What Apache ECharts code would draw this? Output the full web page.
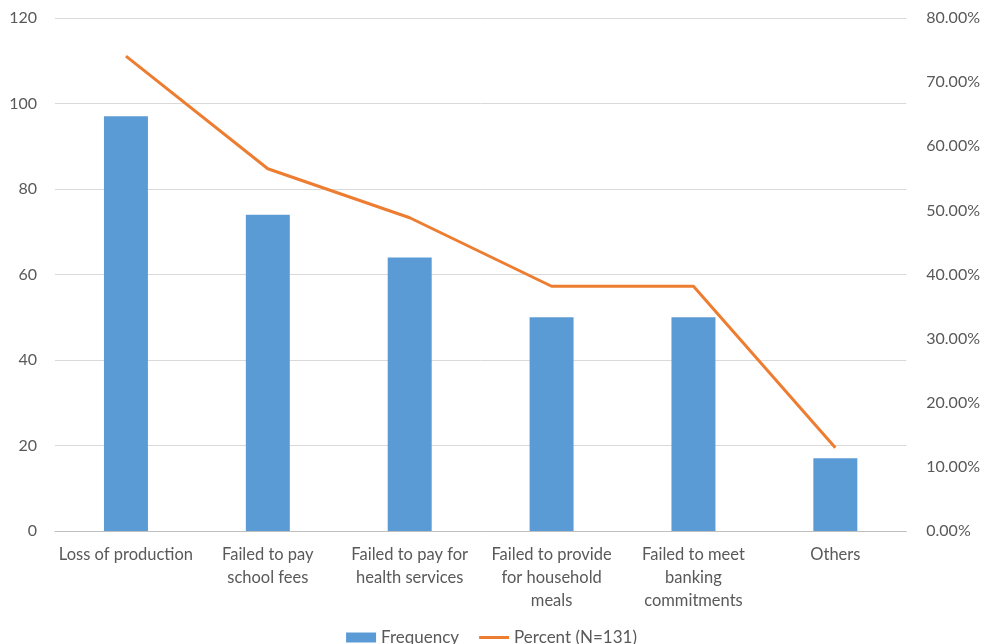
<!DOCTYPE html>
<html>
<head>
<meta charset="utf-8">
<script src="https://cdn.jsdelivr.net/npm/echarts@6/dist/echarts.min.js"></script>
<style>
  html, body { margin: 0; padding: 0; background: #fff; }
  #chart { width: 983px; height: 644px; }
</style>
</head>
<body>
<div id="chart"></div>
<script>
// Consequences reported by respondents
const categories = [
  'Loss of production',
  'Failed to pay\nschool fees',
  'Failed to pay for\nhealth services',
  'Failed to provide\nfor household\nmeals',
  'Failed to meet\nbanking\ncommitments',
  'Others'
];
const frequency = [97, 74, 64, 50, 50, 17];
const percent = [74.05, 56.49, 48.85, 38.17, 38.17, 12.98];

const textColor = '#595959';
const fontFamily = 'Lato, "Noto Sans", sans-serif';
// thin horizontal stroke inside a 30x10 box, used as the line's legend key
const lineKey = 'path://M0,0L30,0L30,0.01L0,0.01Z M0,3.6L30,3.6L30,6.4L0,6.4Z M0,9.99L30,9.99L30,10L0,10Z';

const chart = echarts.init(document.getElementById('chart'));
chart.setOption({
  animation: false,
  textStyle: { fontFamily: fontFamily },
  grid: { left: 55, right: 75, top: 18, bottom: 113, containLabel: false },
  legend: {
    top: 624,
    left: 'center',
    itemWidth: 30,
    itemHeight: 10,
    itemGap: 20,
    textStyle: { color: textColor, fontSize: 17, fontFamily: fontFamily },
    data: [
      { name: 'Frequency', icon: 'rect' },
      { name: 'Percent (N=131)', icon: lineKey }
    ]
  },
  xAxis: {
    type: 'category',
    data: categories,
    axisTick: { show: false },
    axisLine: { lineStyle: { color: '#BFBFBF', width: 1 } },
    axisLabel: {
      color: textColor,
      fontSize: 16.5,
      lineHeight: 23,
      margin: 12,
      interval: 0,
      align: 'center'
    }
  },
  yAxis: [
    {
      type: 'value',
      min: 0,
      max: 120,
      interval: 20,
      axisLine: { show: false },
      axisTick: { show: false },
      splitLine: { lineStyle: { color: '#D9D9D9', width: 1 } },
      axisLabel: { color: textColor, fontSize: 16, margin: 18 }
    },
    {
      type: 'value',
      min: 0,
      max: 80,
      interval: 10,
      position: 'right',
      axisLine: { show: false },
      axisTick: { show: false },
      splitLine: { show: false },
      axisLabel: {
        color: textColor,
        fontSize: 16,
        margin: 20,
        formatter: v => v.toFixed(2) + '%'
      }
    }
  ],
  series: [
    {
      name: 'Frequency',
      type: 'bar',
      data: frequency,
      barWidth: '31%',
      itemStyle: { color: '#5B9BD5' }
    },
    {
      name: 'Percent (N=131)',
      type: 'line',
      yAxisIndex: 1,
      data: percent,
      symbol: 'none',
      lineStyle: { color: '#ED7D31', width: 3 },
      itemStyle: { color: '#ED7D31' }
    }
  ]
});
</script>
</body>
</html>
